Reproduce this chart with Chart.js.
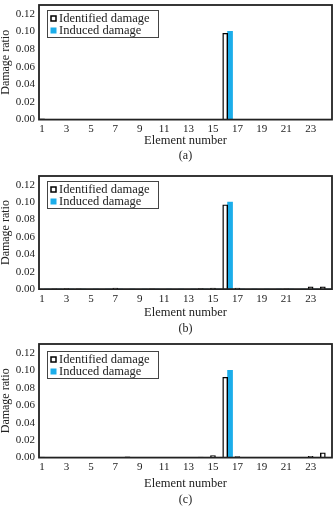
<!DOCTYPE html>
<html>
<head>
<meta charset="utf-8">
<script src="https://cdn.jsdelivr.net/npm/chart.js@4/dist/chart.umd.min.js"></script>
<style>
  html, body { margin: 0; padding: 0; background: #fff; overflow: hidden; }
  #page { position: relative; width: 335px; height: 506px; }
  canvas { position: absolute; left: 0; }
</style>
</head>
<body>
<div id="page"></div>
<script>
// ---- data ----
const elements = [1, 2, 3, 4, 5, 6, 7, 8, 9, 10, 11, 12, 13, 14, 15, 16, 17, 18, 19, 20, 21, 22, 23, 24];
const xTickLabels = [1, 3, 5, 7, 9, 11, 13, 15, 17, 19, 21, 23];
const yTickLabels = [0, 0.02, 0.04, 0.06, 0.08, 0.10, 0.12];

const identifiedA = [0.0008, 0, 0, 0, 0, 0.0002, 0.0002, 0.0003, 0.0002, 0.0004, 0, 0.0003,
                     0.0003, 0.0003, 0.0003, 0.098, 0, 0, 0.0002, 0, 0.0003, 0, 0.0003, 0];
const identifiedB = [0, 0.0003, 0.0005, 0.0002, 0, 0, 0.0012, 0, 0, 0.0002, 0, 0,
                     0, 0.0006, 0.0012, 0.097, 0.0012, 0, 0, 0, 0.0003, 0, 0.0025, 0.0025];
const identifiedC = [0.0005, 0.0004, 0, 0, 0, 0.0003, 0, 0.0008, 0.0003, 0, 0, 0.0002,
                     0.0004, 0.0006, 0.0022, 0.092, 0.0012, 0, 0.0002, 0, 0, 0, 0.0015, 0.0055];
const inducedDamage = [0, 0, 0, 0, 0, 0, 0, 0, 0, 0, 0, 0,
                       0, 0, 0, 0.10, 0, 0, 0, 0, 0, 0, 0, 0];
const panelLabels = ['(a)', '(b)', '(c)'];

// ---- styles ----
const FONT = "'Liberation Serif', 'DejaVu Serif', serif";
const INK = '#222';
const BLUE = '#1badea';
const INDUCED_SHIFT = 0.4;   // induced bar sits just right of the identified one

const framePlugin = {
    id: 'frame',
    afterDatasetsDraw(chart) {
        const { ctx, chartArea: a } = chart;
        ctx.save();
        ctx.strokeStyle = INK;
        ctx.lineWidth = 1.8;
        ctx.strokeRect(a.left, a.top, a.right - a.left, a.bottom - a.top);
        ctx.restore();
    }
};

const insideLegend = {
    id: 'insideLegend',
    afterDraw(chart, args, opts) {
        const { ctx, chartArea } = chart;
        const x = Math.round(chartArea.left + 8) + 0.5;
        const y = Math.round(chartArea.top + opts.top) + 0.5;
        ctx.save();
        ctx.fillStyle = '#fff';
        ctx.fillRect(x, y, 111, 27);
        ctx.strokeStyle = '#444';
        ctx.lineWidth = 1;
        ctx.strokeRect(x, y, 111, 27);

        ctx.font = `12.5px ${FONT}`;
        ctx.textBaseline = 'middle';
        chart.data.datasets.forEach((ds, i) => {
            const cy = y + 8 + i * 12;
            if (ds.borderWidth) {
                ctx.fillStyle = '#fff';
                ctx.fillRect(x + 3, cy - 3, 6, 6);
                ctx.strokeStyle = '#000';
                ctx.lineWidth = 1.5;
                ctx.strokeRect(x + 3.5, cy - 2.5, 5, 5);
            } else {
                ctx.fillStyle = ds.backgroundColor;
                ctx.fillRect(x + 3, cy - 3, 6, 6);
            }
            ctx.fillStyle = INK;
            ctx.fillText(ds.label, x + 11.5, cy + 0.5);
        });
        ctx.restore();
    }
};

function noPadding(axis) {
    axis.paddingTop = 0;
    axis.paddingBottom = 0;
    axis.paddingLeft = 0;
    axis.paddingRight = 0;
}

class DamagePanel {
    constructor(options) {
        this.parent = options.parent;
        this.identified = options.identified;
        this.label = options.label;
        this.geom = options.geom;

        this.initialize();
    }

    initialize() {
        const canvas = document.createElement('canvas');
        canvas.width = 335;
        canvas.height = this.geom.height;
        canvas.style.top = `${this.geom.top}px`;
        this.parent.appendChild(canvas);

        this.chart = new Chart(canvas, {
            type: 'bar',
            data: {
                datasets: [
                    {
                        label: 'Identified damage',
                        data: elements.map((e, i) => ({ x: e, y: this.identified[i] })),
                        backgroundColor: '#fff',
                        borderColor: '#000',
                        borderWidth: 1.4,
                        borderSkipped: 'start'
                    },
                    {
                        label: 'Induced damage',
                        data: elements.map((e, i) => ({ x: e + INDUCED_SHIFT, y: inducedDamage[i] })),
                        backgroundColor: BLUE,
                        borderWidth: 0
                    }
                ]
            },
            options: this.getOptions(),
            plugins: [framePlugin, insideLegend]
        });
    }

    getOptions() {
        const g = this.geom;
        return {
            responsive: false,
            animation: false,
            events: [],
            layout: { padding: { top: g.padTop, left: 0, right: 3, bottom: 0 } },
            datasets: { bar: { barThickness: 5, grouped: false } },
            scales: {
                x: {
                    type: 'linear',
                    min: 0.75,
                    max: 24.75,
                    offset: false,
                    grid: { display: false, drawTicks: false },
                    border: { display: false },
                    afterBuildTicks: (axis) => { axis.ticks = xTickLabels.map(v => ({ value: v })); },
                    afterFit: (axis) => { axis.height = g.xAxisHeight; noPadding(axis); },
                    ticks: {
                        padding: 3,
                        color: INK,
                        font: { family: FONT, size: 11 },
                        maxRotation: 0,
                        autoSkip: false
                    },
                    title: {
                        display: true,
                        text: 'Element number',
                        color: INK,
                        padding: 0,
                        font: { family: FONT, size: 12.5, lineHeight: 1.2 }
                    }
                },
                y: {
                    min: 0,
                    max: 0.13,
                    grid: { display: false, drawTicks: false },
                    border: { display: false },
                    afterBuildTicks: (axis) => { axis.ticks = yTickLabels.map(v => ({ value: v })); },
                    afterFit: (axis) => { axis.width = 39; noPadding(axis); },
                    ticks: {
                        padding: 4,
                        color: INK,
                        font: { family: FONT, size: 11 },
                        callback: (v) => v.toFixed(2)
                    },
                    title: {
                        display: true,
                        text: 'Damage ratio',
                        color: INK,
                        padding: 0,
                        font: { family: FONT, size: 12, lineHeight: 1 }
                    }
                }
            },
            plugins: {
                legend: { display: false },
                tooltip: { enabled: false },
                insideLegend: { top: g.legendTop },
                title: {
                    display: true,
                    text: this.label,
                    position: 'bottom',
                    fullSize: false,
                    color: INK,
                    padding: { top: g.titlePadTop, bottom: 0 },
                    font: { family: FONT, size: 12, weight: 'normal', lineHeight: 1.2 }
                }
            }
        };
    }
}

const page = document.getElementById('page');
const geometries = [
    { top: 0,   height: 163, padTop: 5,  xAxisHeight: 29,   titlePadTop: 0, legendTop: 5 },
    { top: 163, height: 173, padTop: 13, xAxisHeight: 31.5, titlePadTop: 1, legendTop: 5 },
    { top: 330, height: 177, padTop: 14, xAxisHeight: 34,   titlePadTop: 1, legendTop: 7 }
];
const identifiedSets = [identifiedA, identifiedB, identifiedC];

const panels = identifiedSets.map((set, i) => new DamagePanel({
    parent: page,
    identified: set,
    label: panelLabels[i],
    geom: geometries[i]
}));
</script>
</body>
</html>
